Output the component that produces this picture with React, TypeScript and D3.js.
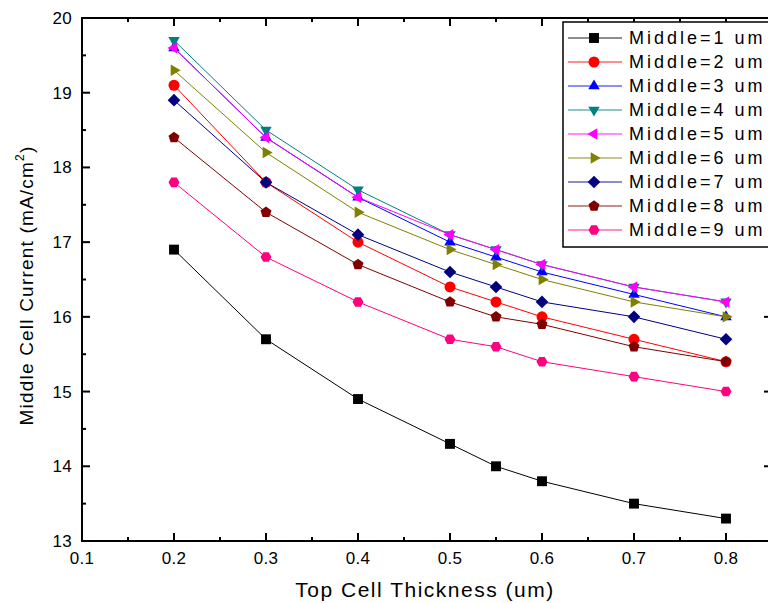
import React from "react";
import * as d3 from "d3";

const thickness = [0.2, 0.3, 0.4, 0.5, 0.55, 0.6, 0.7, 0.8];
const seriesNames = [
  "Middle=1 um", "Middle=2 um", "Middle=3 um", "Middle=4 um", "Middle=5 um",
  "Middle=6 um", "Middle=7 um", "Middle=8 um", "Middle=9 um",
];
const m1 = [16.9, 15.7, 14.9, 14.3, 14.0, 13.8, 13.5, 13.3];
const m2 = [19.1, 17.8, 17.0, 16.4, 16.2, 16.0, 15.7, 15.4];
const m3 = [19.6, 18.4, 17.6, 17.0, 16.8, 16.6, 16.3, 16.0];
const m4 = [19.7, 18.5, 17.7, 17.1, 16.9, 16.7, 16.4, 16.2];
const m5 = [19.6, 18.4, 17.6, 17.1, 16.9, 16.7, 16.4, 16.2];
const m6 = [19.3, 18.2, 17.4, 16.9, 16.7, 16.5, 16.2, 16.0];
const m7 = [18.9, 17.8, 17.1, 16.6, 16.4, 16.2, 16.0, 15.7];
const m8 = [18.4, 17.4, 16.7, 16.2, 16.0, 15.9, 15.6, 15.4];
const m9 = [17.8, 16.8, 16.2, 15.7, 15.6, 15.4, 15.2, 15.0];
const seriesValues = [m1, m2, m3, m4, m5, m6, m7, m8, m9];
const colors = ["#000000", "#FF0000", "#0000FF", "#008080", "#FF00FF", "#808000", "#000080", "#800000", "#FF0080"];
const shapes = ["square", "circle", "triUp", "triDown", "triLeft", "triRight", "diamond", "pentagon", "hexagon"];
const xTicks = [0.1, 0.2, 0.3, 0.4, 0.5, 0.6, 0.7, 0.8];
const yTicks = [13, 14, 15, 16, 17, 18, 19, 20];

const W = 768, H = 603;
const L = 82, T = 18, R = 772, B = 541;

function markerPath(shape: string, r: number): string {
  const poly = (pts: [number, number][]) => "M" + pts.map(p => p[0].toFixed(2) + "," + p[1].toFixed(2)).join("L") + "Z";
  const reg = (n: number, rad: number, start: number) => {
    const pts: [number, number][] = [];
    for (let i = 0; i < n; i++) {
      const a = start + (i * 2 * Math.PI) / n;
      pts.push([rad * Math.cos(a), rad * Math.sin(a)]);
    }
    return poly(pts);
  };
  switch (shape) {
    case "square": return poly([[-r * 0.9, -r * 0.9], [r * 0.9, -r * 0.9], [r * 0.9, r * 0.9], [-r * 0.9, r * 0.9]]);
    case "circle": return `M${r},0A${r},${r} 0 1,1 ${-r},0A${r},${r} 0 1,1 ${r},0Z`;
    case "triUp": return reg(3, r * 1.2, -Math.PI / 2);
    case "triDown": return reg(3, r * 1.2, Math.PI / 2);
    case "triLeft": return reg(3, r * 1.2, Math.PI);
    case "triRight": return reg(3, r * 1.2, 0);
    case "diamond": return reg(4, r * 1.15, -Math.PI / 2);
    case "pentagon": return reg(5, r * 1.05, -Math.PI / 2);
    case "hexagon": return reg(6, r * 1.0, 0);
  }
  return "";
}

export default function App() {
  const x = d3.scaleLinear().domain([0.1, 0.85]).range([L, R]);
  const y = d3.scaleLinear().domain([13, 20]).range([B, T]);
  const line = d3.line<[number, number]>().x(d => x(d[0])).y(d => y(d[1]));
  const xMinor = d3.range(0.15, 0.85, 0.1);
  const yMinor = d3.range(13.5, 20, 1);
  const font = "'Liberation Sans', Arial, sans-serif";
  const legX = 563, legY = 22, legStep = 24;

  return (
    <svg width={W} height={H} style={{ position: "absolute", left: 0, top: 0, background: "#fff" }}>
      <rect x={0} y={0} width={W} height={H} fill="#fff" />
      {/* series */}
      {seriesValues.map((vals, si) => (
        <g key={si}>
          <path d={line(thickness.map((t, i) => [t, vals[i]] as [number, number])) || ""} fill="none" stroke={colors[si]} strokeWidth={1} />
          {thickness.map((t, i) => (
            <path key={i} d={markerPath(shapes[si], 5.5)} transform={`translate(${x(t)},${y(vals[i])})`} fill={colors[si]} />
          ))}
        </g>
      ))}
      {/* frame */}
      <rect x={L} y={T} width={R - L} height={B - T} fill="none" stroke="#000" strokeWidth={2} />
      {/* x ticks */}
      {xTicks.map(t => (
        <g key={"xt" + t}>
          <line x1={x(t)} x2={x(t)} y1={B} y2={B - 8} stroke="#000" strokeWidth={2} />
          <line x1={x(t)} x2={x(t)} y1={T} y2={T + 8} stroke="#000" strokeWidth={2} />
          <text x={x(t)} y={564} textAnchor="middle" fontFamily={font} fontSize={17} letterSpacing={0.3} fill="#000">{t.toFixed(1)}</text>
        </g>
      ))}
      {xMinor.map(t => (
        <g key={"xm" + t}>
          <line x1={x(t)} x2={x(t)} y1={B} y2={B - 4} stroke="#000" strokeWidth={2} />
          <line x1={x(t)} x2={x(t)} y1={T} y2={T + 4} stroke="#000" strokeWidth={2} />
        </g>
      ))}
      {/* y ticks */}
      {yTicks.map(t => (
        <g key={"yt" + t}>
          <line x1={L} x2={L + 8} y1={y(t)} y2={y(t)} stroke="#000" strokeWidth={2} />
          <line x1={R} x2={R - 8} y1={y(t)} y2={y(t)} stroke="#000" strokeWidth={2} />
          <text x={72} y={y(t)} dy="0.35em" textAnchor="end" fontFamily={font} fontSize={17} letterSpacing={0.3} fill="#000">{t}</text>
        </g>
      ))}
      {yMinor.map(t => (
        <g key={"ym" + t}>
          <line x1={L} x2={L + 4} y1={y(t)} y2={y(t)} stroke="#000" strokeWidth={2} />
          <line x1={R} x2={R - 4} y1={y(t)} y2={y(t)} stroke="#000" strokeWidth={2} />
        </g>
      ))}
      {/* axis titles */}
      <text x={(L + R) / 2 - 2} y={597} textAnchor="middle" fontFamily={font} fontSize={21} letterSpacing={1.5} fill="#000">Top Cell Thickness (um)</text>
      <text transform={`translate(33,${(T + B) / 2 + 6}) rotate(-90)`} textAnchor="middle" fontFamily={font} fontSize={19} letterSpacing={1.2} fill="#000">
        Middle Cell Current (mA/cm<tspan dy={-9} fontSize={12}>2</tspan><tspan dy={9}>)</tspan>
      </text>
      {/* legend */}
      <rect x={legX} y={legY} width={260} height={225} fill="#fff" stroke="#000" strokeWidth={1.5} />
      {seriesNames.map((name, si) => {
        const ly = 38 + si * legStep;
        return (
          <g key={"lg" + si}>
            <line x1={568} x2={622} y1={ly} y2={ly} stroke={colors[si]} strokeWidth={1.5} strokeOpacity={0.6} />
            <path d={markerPath(shapes[si], 5.5)} transform={`translate(594,${ly})`} fill={colors[si]} />
            <text x={629} y={ly} dy="0.36em" fontFamily={font} fontSize={18} letterSpacing={3.0} fill="#000">{name}</text>
          </g>
        );
      })}
    </svg>
  );
}
